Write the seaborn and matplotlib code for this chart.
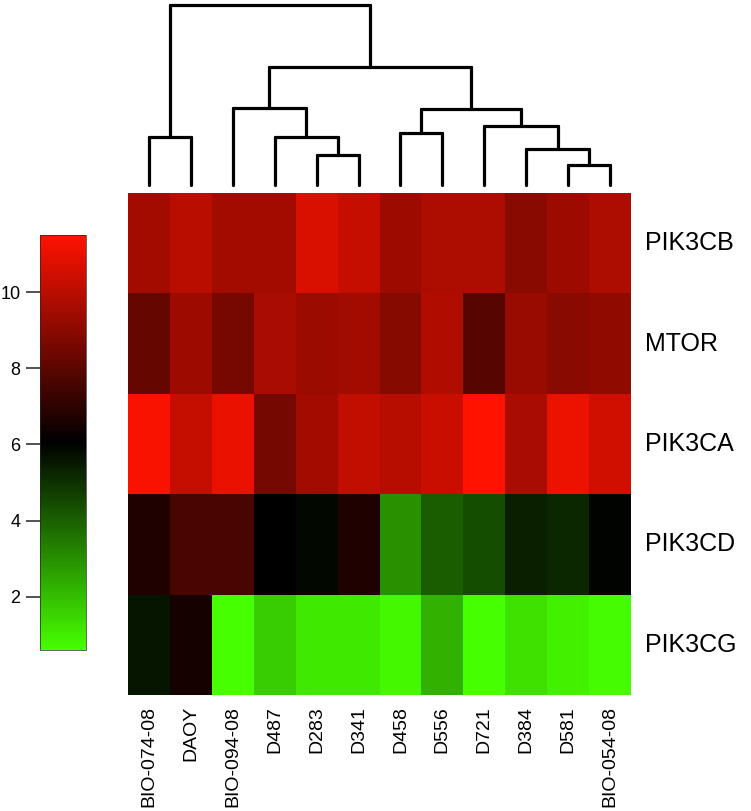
import numpy as np
import pandas as pd
import matplotlib
matplotlib.use("Agg")
import matplotlib.pyplot as plt
import seaborn as sns
from matplotlib.colors import LinearSegmentedColormap

# column (sample) order as shown under the dendrogram
samples = ["BIO-074-08", "DAOY", "BIO-094-08", "D487", "D283", "D341",
           "D458", "D556", "D721", "D384", "D581", "BIO-054-08"]
genes = ["PIK3CB", "MTOR", "PIK3CA", "PIK3CD", "PIK3CG"]

pik3cb = [9.47, 9.98, 9.47, 9.47, 10.67, 10.24, 9.38, 9.73, 9.73, 8.96, 9.38, 9.73]
mtor = [8.19, 9.38, 8.57, 9.64, 9.34, 9.47, 8.91, 9.81, 7.85, 9.30, 8.96, 9.13]
pik3ca = [11.35, 10.24, 11.05, 8.53, 9.47, 10.15, 9.90, 10.33, 11.50, 9.64, 11.10, 10.50]
pik3cd = [6.73, 7.59, 7.59, 6.05, 5.88, 6.73, 2.97, 4.08, 4.43, 5.37, 5.20, 5.97]
pik3cg = [5.62, 6.48, 0.60, 1.69, 1.09, 1.09, 0.75, 2.29, 0.60, 1.26, 0.92, 0.65]

# column dendrogram: (left child, right child, merge height); new nodes numbered from 12
merges = [(0, 1, 48), (4, 5, 30), (3, 13, 48), (2, 14, 77), (10, 11, 20),
          (9, 16, 36), (8, 17, 59), (6, 7, 52), (19, 18, 76), (15, 20, 118),
          (12, 21, 180)]

cbar_ticks = [2, 4, 6, 8, 10]
VMIN, VMAX = 0.6, 11.5

df = pd.DataFrame([pik3cb, mtor, pik3ca, pik3cd, pik3cg], index=genes, columns=samples)
cmap = LinearSegmentedColormap.from_list("greenred", ["#46ff00", "#000000", "#ff1200"])

sns.set_style("white")
plt.rcParams["font.family"] = ["Liberation Sans", "DejaVu Sans"]

W, H = 751, 811
fig = plt.figure(figsize=(W / 100, H / 100), dpi=100)


def box(x0, y0, x1, y1):
    return [x0 / W, 1 - y1 / H, (x1 - x0) / W, (y1 - y0) / H]


ax = fig.add_axes(box(128, 193, 631, 695))
cax = fig.add_axes(box(40, 235, 86, 650))
dax = fig.add_axes(box(128, 5, 631, 185))

sns.heatmap(df, ax=ax, cmap=cmap, vmin=VMIN, vmax=VMAX, cbar_ax=cax,
            cbar_kws={"ticks": cbar_ticks})

ax.yaxis.tick_right()
ax.set_yticklabels(genes, rotation=0, fontsize=18, va="center", color="black")
ax.set_xticklabels(samples, rotation=90, fontsize=14, color="black")
ax.tick_params(axis="both", length=0)
ax.tick_params(axis="x", pad=8)
ax.tick_params(axis="y", pad=10)
ax.set_xlabel("")
ax.set_ylabel("")

cax.yaxis.set_ticks_position("left")
cax.tick_params(axis="y", length=10, width=1.2, color="#333333", labelsize=13,
                labelcolor="black", pad=4)
ax.collections[0].colorbar.outline.set_linewidth(0.5)

# dendrogram from the merge list
xpos = {i: i + 0.5 for i in range(len(samples))}
hpos = {i: 0 for i in range(len(samples))}
node = len(samples)
for a, b, h in merges:
    for c in (a, b):
        dax.plot([xpos[c], xpos[c]], [hpos[c], h], color="black", lw=2.3,
                 solid_capstyle="round", clip_on=False)
    dax.plot([xpos[a], xpos[b]], [h, h], color="black", lw=2.3,
             solid_capstyle="round", clip_on=False)
    xpos[node] = (xpos[a] + xpos[b]) / 2
    hpos[node] = h
    node += 1
dax.set_xlim(0, len(samples))
dax.set_ylim(0, 180)
dax.axis("off")

fig.savefig("out.png", dpi=100)
